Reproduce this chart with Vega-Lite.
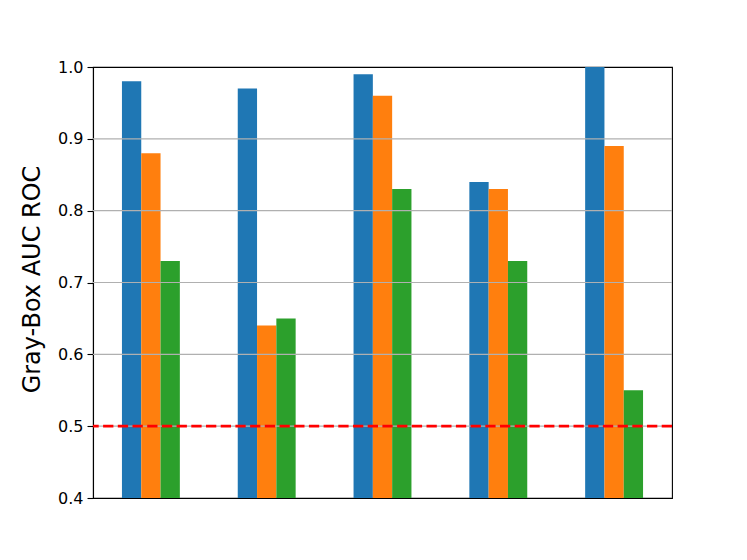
{
  "$schema": "https://vega.github.io/schema/vega-lite/v6.json",
  "width": 579,
  "height": 431,
  "autosize": "none",
  "padding": {"left": 93, "top": 67, "right": 75, "bottom": 62},
  "background": "white",
  "config": {
    "font": "DejaVu Sans",
    "view": {"stroke": "black", "strokeWidth": 1.1}
  },
  "datasets": {
    "bars": [
      {"group": "G1", "series": "A", "auc": 0.98},
      {"group": "G1", "series": "B", "auc": 0.88},
      {"group": "G1", "series": "C", "auc": 0.73},
      {"group": "G2", "series": "A", "auc": 0.97},
      {"group": "G2", "series": "B", "auc": 0.64},
      {"group": "G2", "series": "C", "auc": 0.65},
      {"group": "G3", "series": "A", "auc": 0.99},
      {"group": "G3", "series": "B", "auc": 0.96},
      {"group": "G3", "series": "C", "auc": 0.83},
      {"group": "G4", "series": "A", "auc": 0.84},
      {"group": "G4", "series": "B", "auc": 0.83},
      {"group": "G4", "series": "C", "auc": 0.73},
      {"group": "G5", "series": "A", "auc": 1.0},
      {"group": "G5", "series": "B", "auc": 0.89},
      {"group": "G5", "series": "C", "auc": 0.55}
    ],
    "grid": [
      {"tick": 0.5}, {"tick": 0.6}, {"tick": 0.7}, {"tick": 0.8}, {"tick": 0.9}
    ]
  },
  "layer": [
    {
      "data": {"name": "bars"},
      "mark": {"type": "bar", "clip": true},
      "encoding": {
        "x": {
          "field": "group",
          "type": "nominal",
          "scale": {"paddingInner": 0.5, "paddingOuter": 0.25},
          "axis": {"labels": false, "ticks": false, "title": null, "domain": false}
        },
        "xOffset": {"field": "series", "type": "nominal"},
        "y": {
          "field": "auc",
          "type": "quantitative",
          "scale": {"domain": [0.4, 1.0], "zero": false, "nice": false},
          "axis": {
            "title": "Gray-Box AUC ROC",
            "titleFontSize": 24,
            "titleFontWeight": "normal",
            "titleColor": "black",
            "titleX": -49,
            "titleY": 212,
            "values": [0.4, 0.5, 0.6, 0.7, 0.8, 0.9, 1.0],
            "format": ".1f",
            "labelFontSize": 16,
            "labelColor": "black",
            "labelPadding": 4,
            "tickSize": 6,
            "tickWidth": 1.1,
            "tickColor": "black",
            "domainColor": "black",
            "domainWidth": 1.1,
            "grid": false
          }
        },
        "color": {
          "field": "series",
          "type": "nominal",
          "scale": {"domain": ["A", "B", "C"], "range": ["#1f77b4", "#ff7f0e", "#2ca02c"]},
          "legend": null
        }
      }
    },
    {
      "data": {"name": "grid"},
      "mark": {"type": "rule", "color": "#b0b0b0", "strokeWidth": 1.1},
      "encoding": {"y": {"field": "tick", "type": "quantitative"}}
    },
    {
      "data": {"values": [{"baseline": 0.5}]},
      "mark": {"type": "rule", "color": "red", "strokeWidth": 2.8, "strokeDash": [10.3, 4.4]},
      "encoding": {"y": {"field": "baseline", "type": "quantitative"}}
    }
  ]
}
